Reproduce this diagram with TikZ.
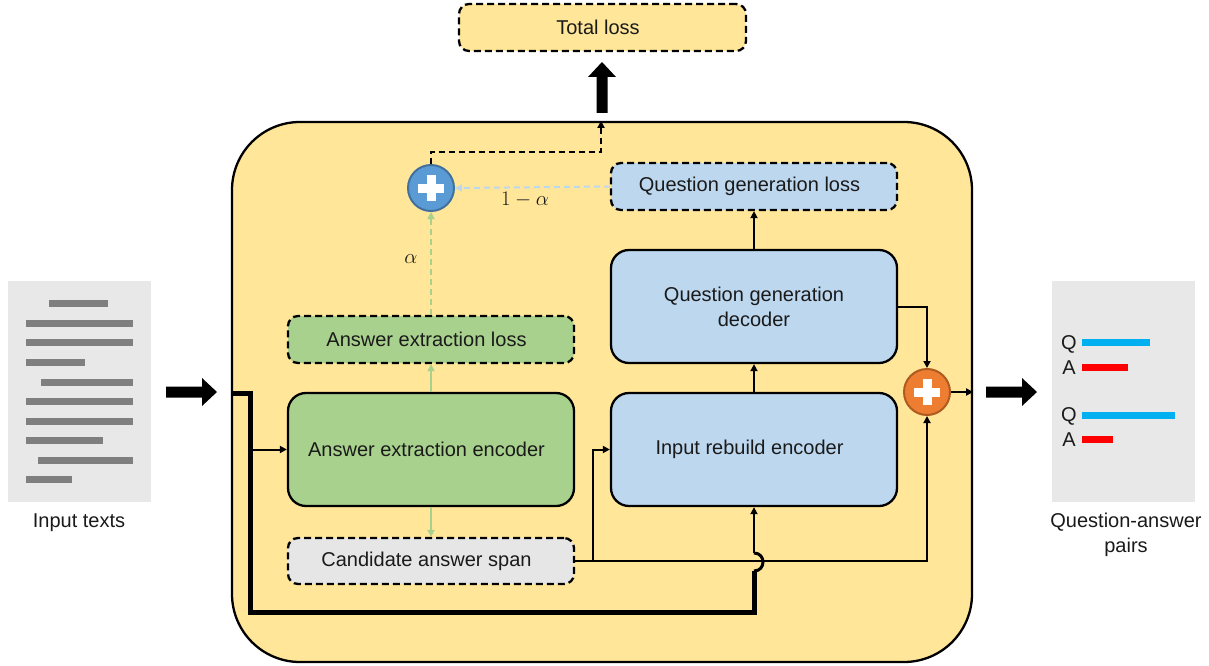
\documentclass[tikz,border=0pt]{standalone}
\usepackage{fontspec}
\setmainfont{Liberation Sans}
\usetikzlibrary{arrows.meta}
\definecolor{yel}{HTML}{FFE699}
\definecolor{grn}{HTML}{A9D18E}
\definecolor{blu}{HTML}{BDD7EE}
\definecolor{gry}{HTML}{E7E6E6}
\definecolor{docgray}{HTML}{E8E8E8}
\definecolor{linegray}{HTML}{7F7F7F}
\definecolor{cblue}{HTML}{5B9BD5}
\definecolor{cblueb}{HTML}{41719C}
\definecolor{corange}{HTML}{ED7D31}
\definecolor{coranb}{HTML}{AE5A21}
\definecolor{qblue}{HTML}{00B0F0}
\definecolor{qred}{HTML}{FF0000}
\definecolor{txt}{HTML}{1A1A1A}
\tikzset{
  solidbox/.style={draw=black, line width=2.3pt, rounded corners=18pt, minimum width=286pt, minimum height=113pt, inner sep=0pt, align=center},
  dashbox/.style={draw=black, line width=2.3pt, dash pattern=on 7pt off 4pt, rounded corners=10pt, minimum width=286pt, minimum height=47pt, inner sep=0pt},
  lft/.style={execute at begin node={\hspace*{-9pt}}},
  arr/.style={line width=2pt, -{Triangle[length=7pt,width=7pt]}},
  garr/.style={draw=grn, line width=2pt, -{Triangle[length=7pt,width=7pt]}},
  barr/.style={draw=blu, line width=2pt, -{Triangle[length=7pt,width=7pt]}},
  dsh/.style={dash pattern=on 6pt off 4pt},
  plusc/.style={circle, line width=2pt, minimum size=46pt, inner sep=0pt},
  docline/.style={draw=linegray, line width=7pt},
  thickp/.style={line width=5pt},
  blockarr/.style={fill=black}
}
\begin{document}
\begin{tikzpicture}[x=1pt, y=-1pt, font=\fontsize{20}{25}\selectfont, text=txt]
\useasboundingbox (0,0) rectangle (1209,666);

% container
\node[draw=black, fill=yel, line width=2.3pt, rounded corners=68pt, minimum width=740pt, minimum height=540pt, inner sep=0pt] (cont) at (602,392) {};

% total loss
\node[dashbox, lft, fill=yel, minimum width=287pt] (TL) at (602.5,27.5) {Total loss};

% boxes
\node[dashbox, lft, fill=grn] (AEL) at (431,339.5) {Answer extraction loss};
\node[solidbox, lft, fill=grn] (AEE) at (431,449.5) {Answer extraction encoder};
\node[dashbox, lft, fill=gry, minimum height=46pt] (CAS) at (431,561) {Candidate answer span};
\node[dashbox, lft, fill=blu] (QGL) at (754,186.5) {Question generation loss};
\node[solidbox, fill=blu] (QGD) at (754,306.5) {Question generation\\decoder};
\node[solidbox, lft, fill=blu] (IRE) at (754,449.5) {Input rebuild encoder};

% plus circles
\node[plusc, fill=cblue, draw=cblueb] (bc) at (431,188) {};
\fill[white] ([shift={(-13pt,-4.5pt)}]bc.center) rectangle ([shift={(13pt,4.5pt)}]bc.center);
\fill[white] ([shift={(-4.5pt,-13pt)}]bc.center) rectangle ([shift={(4.5pt,13pt)}]bc.center);
\node[plusc, fill=corange, draw=coranb] (oc) at (927,392) {};
\fill[white] ([shift={(-13pt,-4.5pt)}]oc.center) rectangle ([shift={(13pt,4.5pt)}]oc.center);
\fill[white] ([shift={(-4.5pt,-13pt)}]oc.center) rectangle ([shift={(4.5pt,13pt)}]oc.center);

% input document
\node[fill=docgray, minimum width=143pt, minimum height=221pt, inner sep=0pt] (indoc) at (79.5,391.5) {};
\draw[docline] (49,303) -- (108,303);
\draw[docline] (26,323) -- (133,323);
\draw[docline] (26,342) -- (133,342);
\draw[docline] (26,362) -- (85,362);
\draw[docline] (41,382) -- (133,382);
\draw[docline] (26,401) -- (133,401);
\draw[docline] (26,421) -- (133,421);
\draw[docline] (26,440) -- (103,440);
\draw[docline] (38,460) -- (133,460);
\draw[docline] (26,479) -- (72,479);
\node (intxt) at (79,523) {Input texts};

% output document
\node[fill=docgray, minimum width=143pt, minimum height=221pt, inner sep=0pt] (qadoc) at (1123.5,391.5) {};
\node (q1) at (1069,344) {Q};
\node (a1) at (1069,368) {A};
\node (q2) at (1069,416) {Q};
\node (a2) at (1069,440) {A};
\draw[draw=qblue, line width=7pt] (1082,342) -- (1150,342);
\draw[draw=qred, line width=7pt] (1082,367) -- (1128,367);
\draw[draw=qblue, line width=7pt] (1082,415) -- (1175,415);
\draw[draw=qred, line width=7pt] (1082,439) -- (1113,439);
\node[align=center] (qatxt) at (1126,535) {Question-answer\\pairs};

% block arrows
\fill[blockarr] (166,386.5) -- (202,386.5) -- (202,378) -- (217,392) -- (202,406) -- (202,397.5) -- (166,397.5) -- cycle;
\fill[blockarr] (986,386.5) -- (1022,386.5) -- (1022,378) -- (1037,392) -- (1022,406) -- (1022,397.5) -- (986,397.5) -- cycle;
\fill[blockarr] (596.5,113) -- (596.5,77) -- (588,77) -- (602,62) -- (616,77) -- (607.5,77) -- (607.5,113) -- cycle;

% loss combination
\coordinate (tl1) at (601,152);
\draw[arr, dsh] (bc.north) |- (tl1) -- (tl1 |- cont.north);
\draw[garr] (AEE.north) -- (AEL.south);
\draw[garr, dsh] (AEL.north) -- (bc.south);
\node (alab) at (411,259) {$\alpha$};
\draw[barr, dsh] (QGL.west) -- (bc.east);
\node (blab) at (525,200) {$1-\alpha$};
\draw[garr] (AEE.south) -- (CAS.north);

% main flow
\draw[arr] (IRE.north) -- (QGD.south);
\draw[arr] (QGD.north) -- (QGL.south);
\draw[arr] (QGD.east) -| (oc.north);
\draw[arr] (oc.east) -- (cont.east |- oc.east);

% thick input path
\coordinate (k1) at (250,393);
\coordinate (k2) at (250,612);
\coordinate (k3) at (754,612);
\coordinate (k4) at (754,571);
\coordinate (k5) at (754,553);
\draw[thickp] (cont.west |- k1) -- (k1) -- (k2) -- (k3) -- (k4);
\draw[line width=3pt] (k4) .. controls (766,571) and (766,553) .. (k5);
\draw[arr] (k5) -- (IRE.south);
\draw[arr] (k1 |- AEE.west) -- (AEE.west);

% candidate span path
\coordinate (j) at (593,561);
\draw[arr] (CAS.east) -| (oc.south);
\draw[arr] (CAS.east -| j) |- (IRE.west);
\end{tikzpicture}
\end{document}
